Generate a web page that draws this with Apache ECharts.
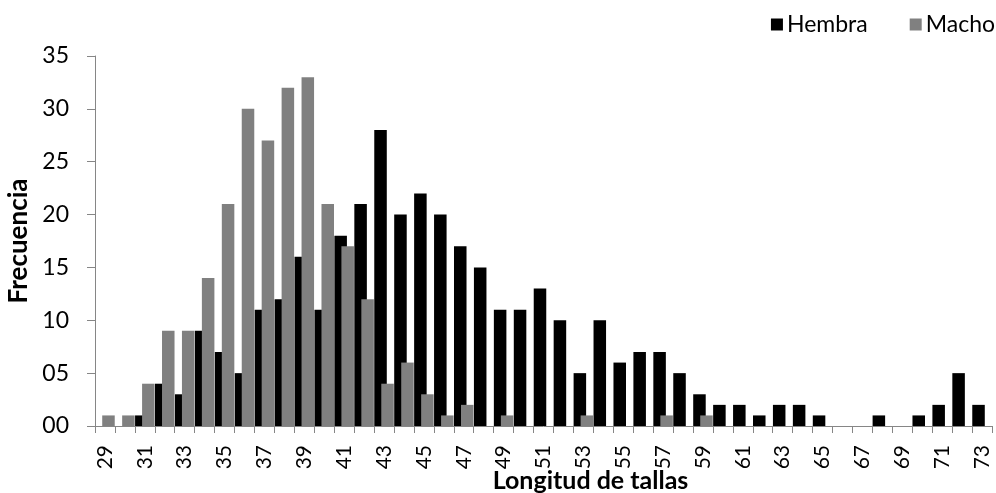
<!DOCTYPE html>
<html>
<head>
<meta charset="utf-8">
<script src="https://cdn.jsdelivr.net/npm/echarts@6/dist/echarts.min.js"></script>
<style>
html,body{margin:0;padding:0;background:#fff;}
#chart{width:996px;height:493px;}
</style>
</head>
<body>
<div id="chart"></div>
<script>
const categories = ['29','30','31','32','33','34','35','36','37','38','39','40','41','42','43','44','45','46','47','48','49','50','51','52','53','54','55','56','57','58','59','60','61','62','63','64','65','66','67','68','69','70','71','72','73'];
const hembra = [0,0,1,4,3,9,7,5,11,12,16,11,18,21,28,20,22,20,17,15,11,11,13,10,5,10,6,7,7,5,3,2,2,1,2,2,1,0,0,1,0,1,2,5,2];
const macho  = [1,1,4,9,9,14,21,30,27,32,33,21,17,12,4,6,3,1,2,0,1,0,0,0,1,0,0,0,1,0,1,0,0,0,0,0,0,0,0,0,0,0,0,0,0];
const yTicks = { min: 0, max: 35, interval: 5 };

const FONT = 'Lato';
const chart = echarts.init(document.getElementById('chart'));
chart.setOption({
  animation: false,
  textStyle: { fontFamily: FONT, color: '#000' },
  legend: {
    right: 1, top: 13, padding: 0,
    itemWidth: 12, itemHeight: 12, itemGap: 42,
    textStyle: { fontFamily: FONT, fontSize: 23, color: '#000', padding: [0, 0, 0, -1] },
    data: [
      { name: 'Hembra', icon: 'rect' },
      { name: 'Macho', icon: 'rect' }
    ]
  },
  grid: { left: 95, right: 4, top: 56, bottom: 67, containLabel: false, outerBoundsMode: 'none' },
  xAxis: {
    type: 'category',
    data: categories,
    name: 'Longitud de tallas',
    nameLocation: 'middle',
    nameGap: 42,
    nameMoveOverlap: false,
    nameTextStyle: { fontFamily: FONT, fontSize: 25, fontWeight: 'bold', color: '#000', padding: [0, 0, 0, 94] },
    axisLine: { lineStyle: { color: '#868686', width: 1 } },
    axisTick: { show: true, interval: 0, length: 7, lineStyle: { color: '#868686' } },
    axisLabel: { interval: 1, rotate: 90, fontFamily: FONT, fontSize: 21, color: '#000', margin: 19 },
    splitLine: { show: false }
  },
  yAxis: {
    type: 'value',
    min: yTicks.min, max: yTicks.max, interval: yTicks.interval,
    name: 'Frecuencia',
    nameLocation: 'middle',
    nameGap: 63,
    nameTextStyle: { fontFamily: FONT, fontSize: 26, fontWeight: 'bold', color: '#000' },
    axisLine: { show: true, lineStyle: { color: '#868686', width: 1 } },
    axisTick: { show: true, inside: false, length: 8, lineStyle: { color: '#868686' } },
    axisLabel: { fontFamily: FONT, fontSize: 23, color: '#000', margin: 26,
      formatter: v => (v < 10 ? '0' : '') + v },
    splitLine: { show: false }
  },
  series: [
    { name: 'Hembra', type: 'bar', data: hembra,
      itemStyle: { color: '#000000' },
      barGap: '-44%', barCategoryGap: '2%' },
    { name: 'Macho', type: 'bar', data: macho,
      itemStyle: { color: '#808080' },
      barGap: '-44%', barCategoryGap: '2%' }
  ]
});
</script>
</body>
</html>
